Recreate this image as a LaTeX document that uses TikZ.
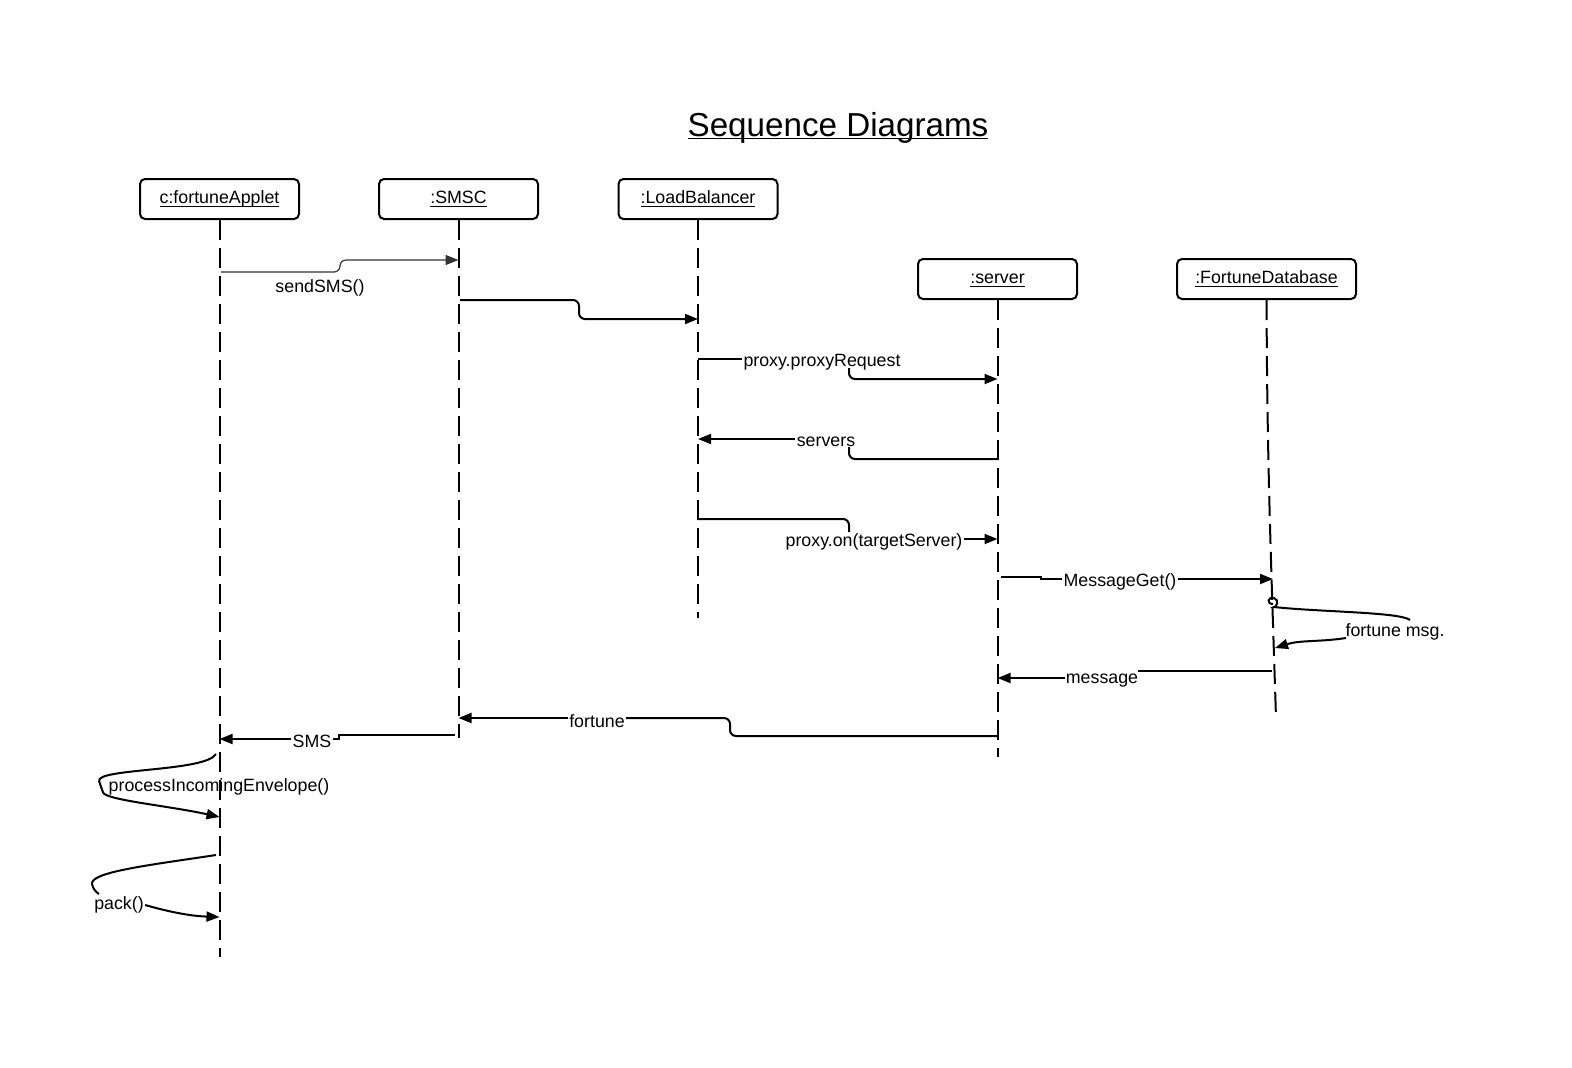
\documentclass[tikz,border=0pt]{standalone}
\usepackage{fontspec}
\setmainfont{Liberation Sans}
\usetikzlibrary{arrows.meta, positioning}

\newcommand{\objname}[1]{\underline{\smash{#1}\vphantom{X}}}

\tikzset{
  obj/.style={draw, line width=1pt, rounded corners=2.5pt, minimum width=79.5pt,
    minimum height=20pt, inner sep=1pt, font=\fontsize{8.9}{10}\selectfont},
  life/.style={line width=1pt, dash pattern=on 10pt off 4pt},
  msg/.style={line width=1pt, rounded corners=3pt},
  call/.style={msg, -{Triangle[length=6.5pt,width=5pt]}},
  lbl/.style={inner sep=0.5pt, font=\fontsize{8.9}{10}\selectfont},
}

\begin{document}
\begin{tikzpicture}[x=0.5pt, y=-0.5pt]
\useasboundingbox (0,0) rectangle (1572,1067);

\node[anchor=base, inner sep=0pt, font=\fontsize{16.6}{20}\selectfont] (title) at (838,136) {\objname{Sequence Diagrams}};

% objects
\node[obj] (fa) at (219.5,199) {\objname{c:fortuneApplet}};
\node[obj] (smsc) at (458.5,199) {\objname{:SMSC}};
\node[obj] (lb) at (698,199) {\objname{:LoadBalancer}};
\node[obj] (srv) at (997.5,279) {\objname{:server}};
\node[obj, minimum width=89.5pt] (db) at (1266.5,279) {\objname{:FortuneDatabase}};

% lifelines
\coordinate (fa end) at (219.5,957);
\coordinate (smsc end) at (458.5,738);
\coordinate (lb end) at (698,618);
\coordinate (srv end) at (997.5,757);
\coordinate (db end) at (1276,718);
\draw[life] (fa) -- (fa end);
\draw[life] (smsc) -- (smsc end);
\draw[life] (lb) -- (lb end);
\draw[life] (srv) -- (srv end);
\draw[life] (db) .. controls (1267,460) and (1271,560) .. (db end);

% labels
\node[lbl] (send) at (320,288) {sendSMS()};
\node[lbl] (preq) at (822,362) {proxy.proxyRequest};
\node[lbl] (svs) at (826,442) {servers};
\node[lbl] (pon) at (874,542) {proxy.on(targetServer)};
\node[lbl] (mget) at (1120,582) {MessageGet()};
\node[lbl] (fmsg) at (1395,632) {fortune msg.};
\node[lbl] (mess) at (1102,681) {message};
\node[lbl] (fort) at (597,721) {fortune};
\node[lbl] (sms) at (312,741) {SMS};
\node[lbl] (proc) at (219,787) {processIncomingEnvelope()};
\node[lbl] (pck) at (119,905) {pack()};

% message ends
\coordinate (fa1) at (221,272);
\coordinate (smsc1) at (458.5,260);
\coordinate (smsc2) at (460,300);
\coordinate (lb2) at (698,319);
\coordinate (lb3) at (698,359);
\coordinate (srv3) at (997.5,379);
\coordinate (srv4) at (997.5,459);
\coordinate (lb4) at (698,439);
\coordinate (lb5) at (698,519);
\coordinate (srv5) at (997.5,539);
\coordinate (srv6) at (1001,577);
\coordinate (db6) at (1273,579);
\coordinate (db7) at (1273,604);
\coordinate (db7b) at (1275,648);
\coordinate (db8) at (1272,671);
\coordinate (srv8) at (997.5,678);
\coordinate (srv9) at (997.5,736);
\coordinate (smsc9) at (458.5,718);
\coordinate (smsc10) at (455,735);
\coordinate (fa10) at (219.5,739);
\coordinate (fa11) at (216,754);
\coordinate (fa11b) at (219.5,817);
\coordinate (fa12) at (216,855);
\coordinate (fa12b) at (219.5,917);

% messages
\draw[call, line width=0.6pt, draw=black!80] (fa1) -- (340,272) -- (340,260) -- (smsc1);
\draw[call] (smsc2) -- (579,300) -- (579,319) -- (lb2);
\draw[msg] (lb3) -- (preq.west |- lb3);
\draw[call] (849,368) -- (849,379) -- (srv3);
\draw[msg] (srv4) -- (849,459) -- (849,447);
\draw[call] (svs.west |- lb4) -- (lb4);
\draw[msg] (lb5) -- (849,519) -- (849,532);
\draw[call] (pon.east |- srv5) -- (srv5);
\draw[line width=1pt] (srv6) -- (1041,577) -- (1041,579) -- (mget.west |- db6);
\draw[call] (mget.east |- db6) -- (db6);
\draw[line width=1pt] (db7) .. controls (1266,604) and (1268,596) .. (1274,598)
  .. controls (1280,600) and (1276,608) .. (1274,607)
  .. controls (1320,612) and (1400,612) .. (1410,620);
\draw[call] (1346,638) .. controls (1320,642) and (1300,640) .. (db7b);
\draw[msg] (db8) -- (1138,671);
\draw[call] (mess.west |- srv8) -- (srv8);
\draw[msg] (srv9) -- (730,736) -- (730,718) -- (fort.east |- smsc9);
\draw[call] (fort.west |- smsc9) -- (smsc9);
\draw[line width=1pt] (smsc10) -- (339,735) -- (339,739) -- (sms.east |- fa10);
\draw[call] (sms.west |- fa10) -- (fa10);
\draw[call] (fa11) .. controls (205,772) and (95,768) .. (101,787)
  .. controls (106,800) and (170,806) .. (fa11b);
\draw[line width=1pt] (fa12) .. controls (150,865) and (90,872) .. (92,884)
  .. controls (93,889) and (96,892) .. (99,894);
\draw[call] (pck.east) .. controls (170,912) and (190,916) .. (fa12b);
\end{tikzpicture}
\end{document}
